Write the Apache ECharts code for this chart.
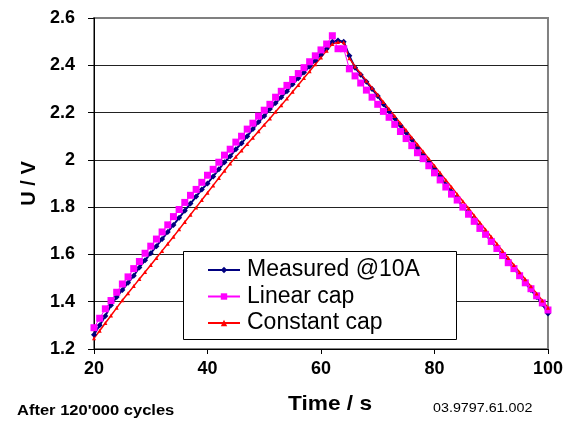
<!DOCTYPE html>
<html>
<head>
<meta charset="utf-8">
<script src="https://cdn.jsdelivr.net/npm/echarts@6/dist/echarts.min.js"></script>
<style>html,body{margin:0;padding:0;background:#fff}#c{width:566px;height:427px}</style>
</head>
<body>
<div id="c"></div>
<script>
var seriesNames = ['Measured @10A', 'Linear cap', 'Constant cap'];
var yTicks = [1.2, 1.4, 1.6, 1.8, 2.0, 2.2, 2.4, 2.6];
var xTicks = [20, 40, 60, 80, 100];
var time = [20,21,22,23,24,25,26,27,28,29,30,31,32,33,34,35,36,37,38,39,40,41,42,43,44,45,46,47,48,49,50,51,52,53,54,55,56,57,58,59,60,61,62,63,64,65,66,67,68,69,70,71,72,73,74,75,76,77,78,79,80,81,82,83,84,85,86,87,88,89,90,91,92,93,94,95,96,97,98,99,100];
var measured = [1.26,1.30,1.34,1.385,1.42,1.45,1.48,1.51,1.545,1.575,1.605,1.635,1.665,1.695,1.725,1.755,1.785,1.815,1.845,1.875,1.90,1.93,1.96,1.99,2.015,2.045,2.07,2.10,2.13,2.16,2.185,2.215,2.24,2.265,2.29,2.32,2.345,2.37,2.395,2.42,2.445,2.47,2.50,2.505,2.50,2.44,2.39,2.36,2.33,2.30,2.27,2.235,2.205,2.175,2.145,2.115,2.085,2.05,2.02,1.99,1.96,1.93,1.895,1.865,1.835,1.80,1.775,1.745,1.715,1.685,1.655,1.625,1.60,1.57,1.54,1.51,1.48,1.45,1.42,1.39,1.35];
var linearCap = [1.29,1.33,1.37,1.405,1.44,1.475,1.505,1.54,1.57,1.605,1.635,1.665,1.695,1.725,1.76,1.79,1.82,1.85,1.875,1.905,1.935,1.96,1.99,2.02,2.045,2.075,2.10,2.13,2.155,2.185,2.21,2.235,2.265,2.29,2.315,2.34,2.365,2.39,2.415,2.44,2.465,2.49,2.525,2.47,2.47,2.385,2.355,2.325,2.295,2.265,2.235,2.205,2.18,2.15,2.12,2.09,2.06,2.03,2.005,1.975,1.945,1.915,1.885,1.855,1.83,1.80,1.77,1.74,1.71,1.685,1.655,1.625,1.595,1.565,1.54,1.51,1.48,1.455,1.425,1.395,1.365];
var constantCap = [1.245,1.277,1.31,1.342,1.374,1.406,1.436,1.466,1.496,1.526,1.555,1.585,1.615,1.645,1.675,1.706,1.737,1.768,1.799,1.83,1.861,1.892,1.923,1.954,1.985,2.013,2.04,2.067,2.094,2.121,2.148,2.175,2.203,2.231,2.259,2.288,2.317,2.346,2.375,2.404,2.433,2.462,2.49,2.498,2.497,2.43,2.395,2.365,2.335,2.305,2.275,2.245,2.215,2.185,2.155,2.125,2.095,2.065,2.035,2.005,1.975,1.945,1.915,1.885,1.855,1.825,1.795,1.765,1.735,1.705,1.675,1.645,1.615,1.585,1.555,1.525,1.495,1.465,1.435,1.405,1.375];

function pairs(vals) { return time.map(function (t, i) { return [t, vals[i]]; }); }

var FONT = 'Liberation Sans, Arial, sans-serif';
var chart = echarts.init(document.getElementById('c'), null, {renderer: 'canvas'});
chart.setOption({
  animation: false,
  backgroundColor: '#fff',
  grid: {left: 94, right: 18, top: 18, bottom: 78, show: true, borderColor: '#808080', borderWidth: 2, backgroundColor: 'transparent'},
  xAxis: {
    type: 'value', min: xTicks[0], max: xTicks[xTicks.length - 1], interval: 20,
    axisLine: {show: true, onZero: false, lineStyle: {color: '#000', width: 1}},
    axisTick: {show: true, inside: false, length: 5, lineStyle: {color: '#000'}},
    axisLabel: {margin: 11, color: '#000', fontFamily: FONT, fontWeight: 'bold', fontSize: 18},
    splitLine: {show: false}
  },
  yAxis: {
    type: 'value', min: yTicks[0], max: yTicks[yTicks.length - 1], interval: 0.2,
    name: 'U / V', nameLocation: 'middle', nameGap: 54, nameRotate: 90,
    nameTextStyle: {color: '#000', fontFamily: FONT, fontWeight: 'bold', fontSize: 20},
    axisLine: {show: true, onZero: false, lineStyle: {color: '#000', width: 1}},
    axisTick: {show: true, inside: false, length: 6, lineStyle: {color: '#000'}},
    axisLabel: {margin: 19, color: '#000', fontFamily: FONT, fontWeight: 'bold', fontSize: 18,
      formatter: function (v) { return String(Math.round(v * 10) / 10); }},
    splitLine: {show: true, lineStyle: {color: ['#222','#222','#222','#222','#222','#222','#222','#808080'], width: 1}}
  },
  legend: {
    orient: 'vertical', left: 207, top: 258, padding: 0, itemGap: 2.5, z: 6,
    itemWidth: 32, itemHeight: 8,
    textStyle: {fontFamily: FONT, fontSize: 23, color: '#000', lineHeight: 24, padding: [0, 0, 0, 2]},
    data: seriesNames
  },
  graphic: [
    {type: 'rect', z: 5, shape: {x: 183.5, y: 251.5, width: 273, height: 88}, style: {fill: '#fff', stroke: '#000', lineWidth: 1}},
    {type: 'text', z: 5, x: 288, y: 394, scaleX: 1.08, style: {x: 0, y: 0, text: 'Time / s', fill: '#000', font: 'bold 21px ' + FONT, textVerticalAlign: 'top'}},
    {type: 'text', z: 5, x: 17, y: 404, scaleX: 1.18, style: {x: 0, y: 0, text: "After 120'000 cycles", fill: '#000', font: 'bold 14px ' + FONT, textVerticalAlign: 'top'}},
    {type: 'text', z: 5, x: 433, y: 402, scaleX: 1.1, style: {x: 0, y: 0, text: '03.9797.61.002', fill: '#000', font: '13px ' + FONT, textVerticalAlign: 'top'}}
  ],
  series: [
    {name: seriesNames[0], type: 'line', data: pairs(measured), color: '#000080',
      symbol: 'diamond', symbolSize: 6, showSymbol: true, lineStyle: {width: 2, color: '#000080'}, itemStyle: {color: '#000080'}},
    {name: seriesNames[1], type: 'line', data: pairs(linearCap), color: '#FF00FF',
      symbol: 'rect', symbolSize: 7, showSymbol: true, lineStyle: {width: 1, color: '#FF00FF'}, itemStyle: {color: '#FF00FF'}},
    {name: seriesNames[2], type: 'line', data: pairs(constantCap), color: '#FF0000',
      symbol: 'triangle', symbolSize: 4, showSymbol: true, lineStyle: {width: 1.5, color: '#FF0000'}, itemStyle: {color: '#FF0000'}}
  ]
});
</script>
</body>
</html>
